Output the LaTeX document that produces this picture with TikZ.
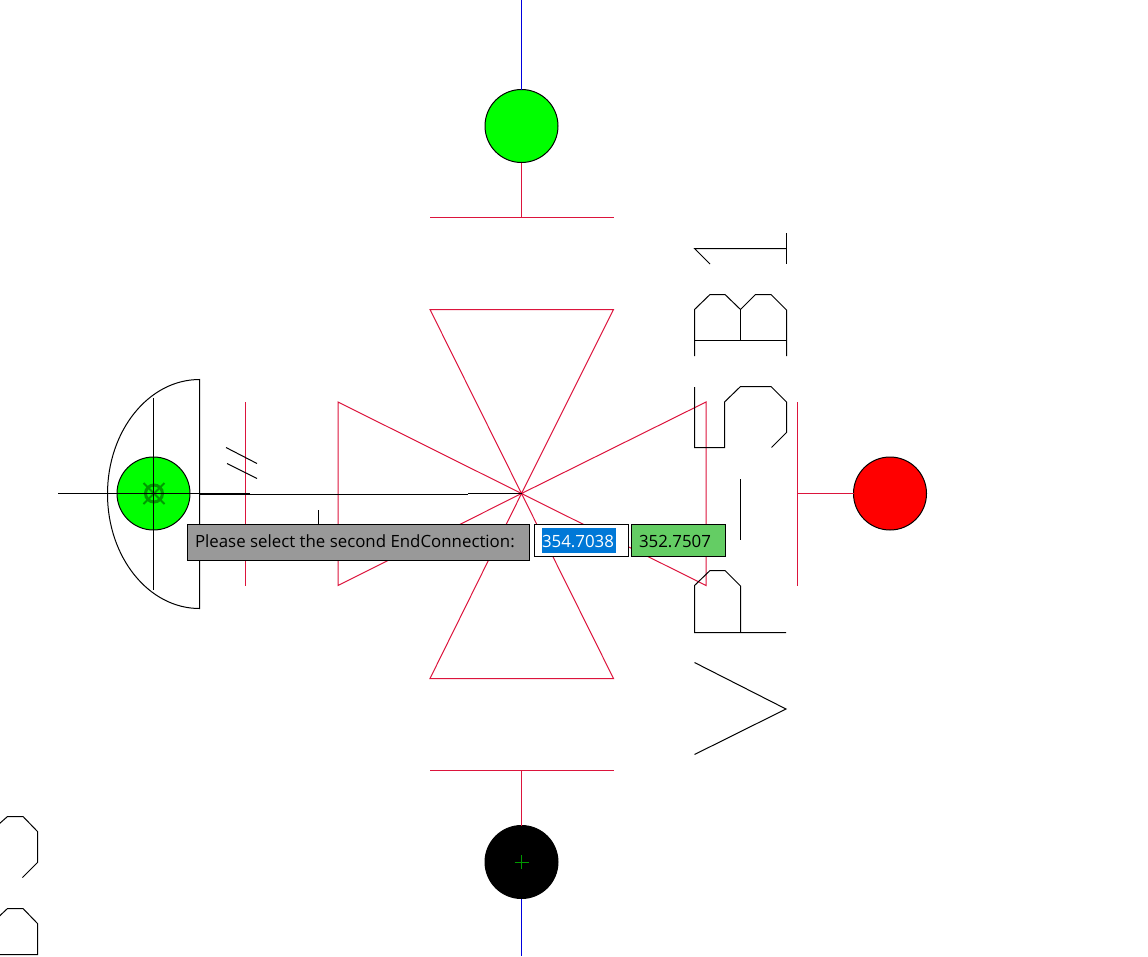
\documentclass[tikz,border=0pt]{standalone}
\usepackage{fontspec}
\setmainfont{Open Sans}
\definecolor{crim}{HTML}{DC143C}
\definecolor{wireblue}{HTML}{0000DD}
\definecolor{lime}{HTML}{00FF00}
\definecolor{symgreen}{HTML}{009900}
\definecolor{promptgrey}{HTML}{999999}
\definecolor{selblue}{HTML}{0078D7}
\definecolor{valgreen}{HTML}{64CD64}
\tikzset{
  ink/.style={draw=black,line width=1pt,line join=miter},
  wire/.style={draw=crim,line width=1pt,line join=miter},
  feed/.style={draw=wireblue,line width=1pt},
  lamp/.style={circle,draw=black,line width=1pt,minimum size=73pt,inner sep=0pt,outer sep=0pt},
  uibox/.style={rectangle,draw=black,line width=1pt,inner sep=0pt,outer sep=0pt,anchor=north west,minimum height=32pt},
  uitext/.style={font=\fontsize{16.85}{18}\selectfont,anchor=base west,inner sep=0pt,outer sep=0pt}
}
\begin{document}
\begin{tikzpicture}[x=1pt,y=-1pt]
\useasboundingbox (0,0) rectangle (1148,956);
% free ends
\coordinate (topend) at (521.5,0);
\coordinate (topbar) at (521.5,217.5);
\coordinate (botend) at (521.5,956);
\coordinate (botbar) at (521.5,770.5);
\coordinate (rightbar) at (797.5,493.5);
\coordinate (hub) at (521.5,493.5);
% crimson triangles and bars
\draw[wire] (430,309.5) -- (613.5,309.5) -- (hub) -- cycle;
\draw[wire] (430,678.5) -- (613.5,678.5) -- (hub) -- cycle;
\draw[wire] (338,402) -- (338,585.5) -- (hub) -- cycle;
\draw[wire] (706,402) -- (706,585.5) -- (hub) -- cycle;
\draw[wire] (430,217.5) -- (614,217.5);
\draw[wire] (430,770.5) -- (614,770.5);
\draw[wire] (245.5,402) -- (245.5,586);
\draw[wire] (797.5,402) -- (797.5,585.5);
% lamps
\node[lamp,fill=lime] (gtop) at (521.5,126) {};
\node[lamp,fill=black] (kbot) at (521.5,862) {};
\node[lamp,fill=red] (rlamp) at (890,493.5) {};
\node[lamp,fill=lime] (gleft) at (153.5,493.5) {};
\draw[feed] (topend) -- (gtop);
\draw[feed] (botend) -- (kbot);
\draw[wire] (gtop) -- (topbar);
\draw[wire] (kbot) -- (botbar);
\draw[wire] (rlamp) -- (rightbar);
% plus in black lamp
\draw[draw=symgreen,line width=1pt] (514.5,862) -- (528.5,862) (521.5,855) -- (521.5,869);
% left half ellipse and cross
\draw[ink] (199.5,379.5) .. controls (148.7,379.5) and (107.5,430.7) .. (107.5,494) .. controls (107.5,557.3) and (148.7,608.5) .. (199.5,608.5) -- cycle;
\draw[draw=symgreen,line width=3pt] (154,493.5) circle[radius=8.5];
\draw[draw=symgreen,line width=2pt] (143.5,483) -- (164.5,504) (164.5,483) -- (143.5,504);
\draw[ink] (153.5,398) -- (153.5,590);
\draw[ink] (58,493.5) -- (199.5,493.5);
\draw[draw=black,line width=2pt] (199.5,494) -- (250,494);
\draw[ink] (250,494.5) -- (468,494.5);
\draw[ink] (468,493.5) -- (hub);
\draw[ink] (226,447.5) -- (257,463.5);
\draw[ink] (227,463.5) -- (257,478.5);
\draw[ink] (318.5,510) -- (318.5,526);
% rotated letters
\draw[ink] (786.5,233) -- (786.5,264);
\draw[ink] (786.5,248.5) -- (694.5,248.5) -- (710,264);
\draw[ink] (694.5,340.5) -- (786.5,340.5);
\draw[ink] (694.5,356) -- (694.5,309.5) -- (710,294.5) -- (725,294.5) -- (740.5,309.5) -- (755.5,294.5) -- (771,294.5) -- (786.5,310) -- (786.5,356);
\draw[ink] (740.5,309.5) -- (740.5,340.5);
\draw[ink] (694.5,387) -- (694.5,447.5) -- (724.5,447.5) -- (724.5,402) -- (740.5,386.5) -- (771,386.5) -- (786.5,402) -- (786.5,432.5) -- (771.5,447.5);
\draw[ink] (740.5,479) -- (740.5,540);
\draw[ink] (786,632.5) -- (694.5,632.5) -- (694.5,585.5) -- (710,570.5) -- (725,570.5) -- (740.5,586) -- (740.5,632.5);
\draw[ink] (694.5,662.5) -- (786,709) -- (694.5,754.5);
\draw[ink] (-1,824) -- (7.5,816.5) -- (23,816.5) -- (37.5,831.5) -- (37.5,862.5) -- (22.5,877.5);
\draw[ink] (-1,916.5) -- (7.5,908.5) -- (23,908.5) -- (37.5,923.5) -- (37.5,954.5) -- (-1,954.5);
% prompt UI
\node[uibox,fill=promptgrey,minimum width=342.5pt,minimum height=36.5pt] (prompt) at (187,524) {};
\node[uibox,fill=white,minimum width=93.5pt] (valone) at (534.5,524) {};
\node[uibox,fill=valgreen,minimum width=93.5pt] (valtwo) at (631.5,524) {};
\node[rectangle,fill=selblue,inner sep=0pt,outer sep=0pt,anchor=north west,minimum width=74pt,minimum height=25pt] (sel) at (542,527.5) {};
\node[uitext] (ptext) at (195,547) {Please select the second EndConnection:};
\node[uitext,text=white] (vtext) at (542,547) {354.7038};
\node[uitext] (wtext) at (639,547) {352.7507};
\end{tikzpicture}
\end{document}
